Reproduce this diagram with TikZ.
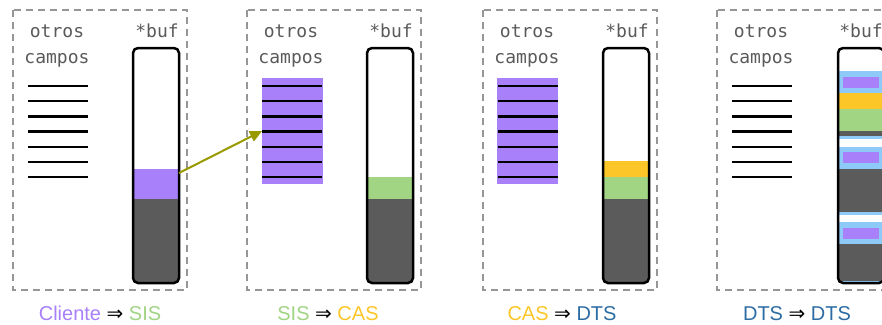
\documentclass[tikz,border=0pt]{standalone}
\usepackage{xcolor}
\usepackage{tikz}
\usepackage{fontspec}
\setmainfont{Liberation Sans}
\setmonofont{DejaVu Sans Mono}
\newfontfamily\symfont{DejaVu Sans}
\definecolor{cliente}{RGB}{167, 128, 250}
\definecolor{sis}{RGB}{161, 212, 131}
\definecolor{cas}{RGB}{252, 198, 40}
\definecolor{dts}{RGB}{44, 108, 164}
\definecolor{dtsfill}{RGB}{142, 202, 248}
\definecolor{datagray}{RGB}{91, 91, 91}
\definecolor{framegray}{RGB}{150, 150, 150}
\definecolor{textgray}{RGB}{90, 90, 90}
\definecolor{arrowolive}{RGB}{153, 153, 0}
\usetikzlibrary{arrows.meta, positioning}

\begin{document}
\begin{tikzpicture}[
        x=1pt, y=-1pt,
        every node/.style={inner sep=0pt, outer sep=0pt},
        panel/.style={draw=framegray, line width=1.3pt, dash pattern=on 7pt off 5pt},
        bufbox/.style={draw=black, line width=2.5pt, rounded corners=5pt},
        field/.style={draw=black, line width=2.4pt},
        heading/.style={anchor=base, text=textgray, font=\ttfamily\fontsize{18}{21}\selectfont},
        caption/.style={anchor=base, font=\fontsize{20}{24}\selectfont},
        chunk/.style={anchor=north west, minimum width=#1},
        moved/.style={draw=arrowolive, line width=2pt, -{Triangle[length=12pt,width=11pt]}}
    ]
        \useasboundingbox (0,0) rectangle (882,324);
        \clip (0,0) rectangle (882,324);

        % Frames, headings and field lines
        \foreach \dx/\name in {0/a, 234/b, 470/c, 704/d} {
            \draw[panel] (13+\dx,10) rectangle (187+\dx,290);
            \node[heading] (otros-\name) at (57+\dx,37.5) {otros};
            \node[heading] (campos-\name) at (57+\dx,63) {campos};
            \node[heading] (buf-\name) at (157+\dx,37.5) {*buf};
        }

        % Copied structs
        \node[chunk=61pt, minimum height=106pt, fill=cliente] (blk2) at (262,78) {};
        \node[chunk=61pt, minimum height=106pt, fill=cliente] (blk3) at (497,78) {};

        \foreach \dx in {0, 234, 470, 704}
            \foreach \k in {0,...,6}
                \draw[field] (28+\dx,86+15.2*\k) -- (88+\dx,86+15.2*\k);

        % Buffer: Cliente
        \begin{scope}
            \clip[rounded corners=5pt] (133,48) rectangle (179,283);
            \fill[datagray] (133,199) rectangle (179,283);
            \node[chunk=46pt, minimum height=30pt, fill=cliente] (seg1) at (133,169) {};
        \end{scope}
        \draw[bufbox] (133,48) rectangle (179,283);

        % Buffer: SIS
        \begin{scope}
            \clip[rounded corners=5pt] (367,48) rectangle (413,283);
            \fill[datagray] (367,199) rectangle (413,283);
            \fill[sis] (367,177) rectangle (413,199);
        \end{scope}
        \draw[bufbox] (367,48) rectangle (413,283);

        % Buffer: CAS
        \begin{scope}
            \clip[rounded corners=5pt] (603,48) rectangle (649,283);
            \fill[datagray] (603,199) rectangle (649,283);
            \fill[sis] (603,177) rectangle (649,199);
            \fill[cas] (603,161) rectangle (649,177);
        \end{scope}
        \draw[bufbox] (603,48) rectangle (649,283);

        % Buffer: DTS, three records
        \begin{scope}
            \clip[rounded corners=5pt] (838,48) rectangle (884,283);
            \fill[dtsfill] (838,71) rectangle (884,139);
            \fill[cliente] (843,77) rectangle (879,88);
            \fill[cas] (838,93) rectangle (884,109);
            \fill[sis] (838,109) rectangle (884,131);
            \fill[datagray] (839,131) rectangle (883,136);
            \fill[dtsfill] (838,147) rectangle (884,215);
            \fill[cliente] (843,152) rectangle (879,163);
            \fill[datagray] (838,169) rectangle (884,212);
            \fill[dtsfill] (838,222) rectangle (884,283);
            \fill[cliente] (843,228) rectangle (879,239);
            \fill[datagray] (838,244) rectangle (884,281);
        \end{scope}
        \draw[bufbox] (838,48) rectangle (884,283);

        \draw[moved] ([yshift=11pt]seg1.east) -- (blk2.west);

        % Captions
        \node[caption] (cap1) at (100,320) {\textcolor{cliente}{Cliente} {\symfont ⇒} \textcolor{sis}{SIS}};
        \node[caption] (cap2) at (328,320) {\textcolor{sis}{SIS} {\symfont ⇒} \textcolor{cas}{CAS}};
        \node[caption] (cap3) at (562,320) {\textcolor{cas}{CAS} {\symfont ⇒} \textcolor{dts}{DTS}};
        \node[caption] (cap4) at (797,320) {\textcolor{dts}{DTS} {\symfont ⇒} \textcolor{dts}{DTS}};

    \end{tikzpicture}
\end{document}
